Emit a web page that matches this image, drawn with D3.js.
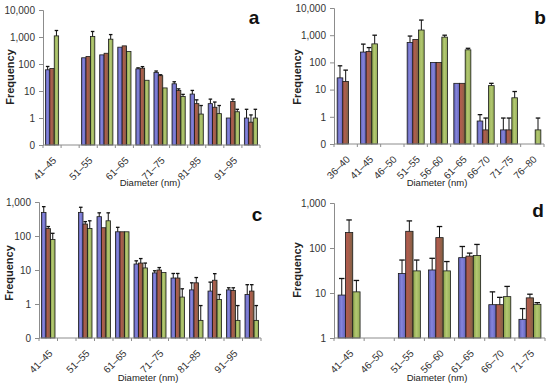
<!DOCTYPE html>
<html>
<head>
<meta charset="utf-8">
<script src="https://cdn.jsdelivr.net/npm/d3@7"></script>
<style>
  body { margin: 0; background: #fff; }
  svg { display: block; font-family: "Liberation Sans", Arial, sans-serif; }
</style>
</head>
<body>
<svg id="chart" width="550" height="387"></svg>
<script>
// ---- data (upper error bar ends given as values; null = no bar) ----
const catsAC = ["41–45","46–50","51–55","56–60","61–65","66–70","71–75","76–80","81–85","86–90","91–95","96–100"]
const ticksAC = ["41–45","51–55","61–65","71–75","81–85","91–95"]
const catsB = ["36–40","41–45","46–50","51–55","56–60","61–65","66–70","71–75","76–80"]
const catsD = ["41–45","46–50","51–55","56–60","61–65","66–70","71–75"]

const aBlue  = [61, null, 170, 218, 420, 66, 49, 18.5, 7.7, 3.4, 1.0, 1.0]
const aRed   = [68, null, 190, 250, 470, 70, 37, 10.5, 3.4, 2.5, 4.1, 0.7]
const aGreen = [1100, null, 1040, 830, 290, 25, 13, 6.3, 1.4, 1.45, 1.7, 1.0]
const aBlueErr  = [81, null, null, null, null, 72, 55, 22, 10.5, 5, null, 2.1]
const aRedErr   = [null, null, null, null, null, 80, 40, 12, 4.7, 3.9, 5, 1.3]
const aGreenErr = [1740, null, 1600, 1230, null, null, null, 7.5, 2.9, 2.9, 2.1, 2.1]

const bBlue  = [27, 240, null, 540, 100, 17, 0.7, 0.33, null]
const bRed   = [20, 250, null, 700, 100, 17, 0.33, 0.33, null]
const bGreen = [null, 480, null, 1550, 850, 290, 14, 5, 0.33]
const bBlueErr  = [75, 470, null, 930, null, null, 1.2, 0.9, null]
const bRedErr   = [52, 350, null, null, null, null, 0.9, 0.9, null]
const bGreenErr = [null, 1000, null, 3600, 1000, 330, 17, 8.5, 0.9]

const cBlue  = [495, null, 495, 370, 133, 15, 8.2, 5.8, 2.6, 2.4, 2.6, 1.9]
const cRed   = [165, null, 225, 175, 133, 16, 10, 5.8, 4.2, 5, 2.5, 2.4]
const cGreen = [79, null, 166, 280, 133, 11.5, 8.4, 1.6, 0.33, 1.35, 0.33, 0.33]
const cBlueErr  = [730, null, 700, 480, 180, 18.6, 9.5, 7.9, 4.2, 4.4, 3.0, 3.7]
const cRedErr   = [190, null, 265, null, null, 21.7, 11.8, 7.9, 6, 7.8, 3.0, 3.7]
const cGreenErr = [120, null, 280, 480, null, 16, null, 2.8, 0.9, 1.9, 0.9, 0.9]

const dBlue  = [9, null, 27, 32.5, 61, 5.5, 2.6]
const dRed   = [220, null, 235, 170, 66, 5.5, 7.8]
const dGreen = [10.6, null, 31, 31, 68, 8.3, 5.6]
const dBlueErr  = [21, null, 54, 59, 108, 10.6, 4.5]
const dRedErr   = [420, null, 400, 300, 77, 8, 9.4]
const dGreenErr = [19, null, 54, 50, 120, 14, 6.1]

const yTicks4 = [0.1, 1, 10, 100, 1000, 10000]
const yLabels4 = ["0", "1", "10", "100", "1,000", "10,000"]
const yTicksC = [0.1, 1, 10, 100, 1000]
const yLabelsC = ["0", "1", "10", "100", "1,000"]
const yTicksD = [1, 10, 100, 1000]
const yLabelsD = ["1", "10", "100", "1,000"]

const colors = [
    ["#5c5cb0", "#8585dc", "#6464bc"],
    ["#b45a4e", "#a85e4c", "#7c6244"],
    ["#87a24a", "#b3c872", "#94ad56"]
]

const svg = d3.select("#chart")
const defs = svg.append("defs")
colors.forEach(function(c, i) {
    const g = defs.append("linearGradient").attr("id", "g" + i)
        .attr("x1", "0").attr("x2", "1").attr("y1", "0").attr("y2", "0")
    g.append("stop").attr("offset", "0%").attr("stop-color", c[0])
    g.append("stop").attr("offset", "45%").attr("stop-color", c[1])
    g.append("stop").attr("offset", "100%").attr("stop-color", c[2])
})

function drawPanel(p) {
    const x = d3.scaleBand()
        .domain(p.cats)
        .range([p.x0, p.x1])
        .paddingInner(0.27)
        .paddingOuter(0.135)
    const sub = d3.scaleBand().domain([0, 1, 2]).range([0, x.bandwidth()])
    const y = d3.scaleLog().domain(p.domain).range([p.yBottom, p.yTop])

    const g = svg.append("g")

    // bars
    p.series.forEach(function(vals, si) {
        g.selectAll(null)
            .data(p.cats.map((c, i) => ({c: c, v: vals[i], e: p.errs[si][i]})).filter(d => d.v != null))
            .enter()
            .append("rect")
                .attr("x", d => x(d.c) + sub(si))
                .attr("y", d => y(d.v))
                .attr("width", sub.bandwidth())
                .attr("height", d => p.yBottom - y(d.v))
                .attr("fill", "url(#g" + si + ")")
                .attr("stroke", "#1a1a1a")
                .attr("stroke-width", 0.8)
    })

    // error bars (upper only)
    p.series.forEach(function(vals, si) {
        const eb = p.cats.map((c, i) => ({c: c, v: vals[i], e: p.errs[si][i]}))
            .filter(d => d.v != null && d.e != null)
        const cx = d => x(d.c) + sub(si) + sub.bandwidth() / 2
        const capW = Math.min(sub.bandwidth() * 0.8, 5.5)
        g.selectAll(null).data(eb).enter().append("line")
            .attr("x1", cx).attr("x2", cx)
            .attr("y1", d => y(d.v)).attr("y2", d => y(d.e))
            .attr("stroke", "#111").attr("stroke-width", 1)
        g.selectAll(null).data(eb).enter().append("line")
            .attr("x1", d => cx(d) - capW / 2).attr("x2", d => cx(d) + capW / 2)
            .attr("y1", d => y(d.e)).attr("y2", d => y(d.e))
            .attr("stroke", "#111").attr("stroke-width", 1.3)
    })

    // y axis
    const ya = g.append("g")
        .attr("transform", "translate(" + p.x0 + ",0)")
        .call(d3.axisLeft(y).tickValues(p.yTicks).tickFormat((d, i) => p.yLabels[i]).tickSize(4).tickPadding(4))
    ya.select(".domain").attr("stroke", "#8c8c8c")
    ya.selectAll(".tick line").attr("stroke", "#8c8c8c")
    ya.selectAll("text").attr("font-size", 10).attr("fill", "#333")

    // x axis: line + boundary ticks
    g.append("line")
        .attr("x1", p.x0).attr("x2", p.x1)
        .attr("y1", p.yBottom).attr("y2", p.yBottom)
        .attr("stroke", "#8c8c8c")
    const bounds = d3.range(p.cats.length + 1).map(i => p.x0 + i * x.step())
    g.selectAll(null).data(bounds).enter().append("line")
        .attr("x1", d => d).attr("x2", d => d)
        .attr("y1", p.yBottom).attr("y2", p.yBottom + 3)
        .attr("stroke", "#8c8c8c")

    g.selectAll(null).data(p.tickCats).enter().append("text")
        .attr("text-anchor", "end")
        .attr("font-size", 10)
        .attr("fill", "#333")
        .attr("transform", d => "translate(" + (x(d) + x.bandwidth() / 2 + 5) + "," + (p.yBottom + 16) + ")rotate(-45)")
        .text(d => d)

    // titles
    g.append("text")
        .attr("text-anchor", "middle")
        .attr("font-size", 9.5)
        .attr("fill", "#222")
        .attr("x", p.xTitle[0]).attr("y", p.xTitle[1])
        .text("Diameter (nm)")

    g.append("text")
        .attr("text-anchor", "middle")
        .attr("font-size", 11)
        .attr("font-weight", "bold")
        .attr("fill", "#222")
        .attr("transform", "translate(" + p.yTitle[0] + "," + p.yTitle[1] + ")rotate(-90)")
        .text("Frequency")

    g.append("text")
        .attr("text-anchor", "middle")
        .attr("font-size", 19)
        .attr("font-weight", "bold")
        .attr("fill", "#111")
        .attr("x", p.letterPos[0]).attr("y", p.letterPos[1])
        .text(p.letter)
}

drawPanel({
    cats: catsAC, tickCats: ticksAC,
    series: [aBlue, aRed, aGreen], errs: [aBlueErr, aRedErr, aGreenErr],
    x0: 43, x1: 260, yTop: 10, yBottom: 145, domain: [0.1, 10000],
    yTicks: yTicks4, yLabels: yLabels4,
    xTitle: [150, 186], yTitle: [14, 77], letter: "a", letterPos: [254, 24]
})
drawPanel({
    cats: catsB, tickCats: catsB,
    series: [bBlue, bRed, bGreen], errs: [bBlueErr, bRedErr, bGreenErr],
    x0: 334, x1: 544, yTop: 8, yBottom: 144, domain: [0.1, 10000],
    yTicks: yTicks4, yLabels: yLabels4,
    xTitle: [437, 186], yTitle: [301, 77], letter: "b", letterPos: [540, 24]
})
drawPanel({
    cats: catsAC, tickCats: ticksAC,
    series: [cBlue, cRed, cGreen], errs: [cBlueErr, cRedErr, cGreenErr],
    x0: 39, x1: 261, yTop: 202, yBottom: 338, domain: [0.1, 1000],
    yTicks: yTicksC, yLabels: yLabelsC,
    xTitle: [148, 381], yTitle: [13, 273], letter: "c", letterPos: [257, 221]
})
drawPanel({
    cats: catsD, tickCats: catsD,
    series: [dBlue, dRed, dGreen], errs: [dBlueErr, dRedErr, dGreenErr],
    x0: 334, x1: 545, yTop: 203, yBottom: 338, domain: [1, 1000],
    yTicks: yTicksD, yLabels: yLabelsD,
    xTitle: [437, 381], yTitle: [301, 270], letter: "d", letterPos: [538, 217]
})
</script>
</body>
</html>
